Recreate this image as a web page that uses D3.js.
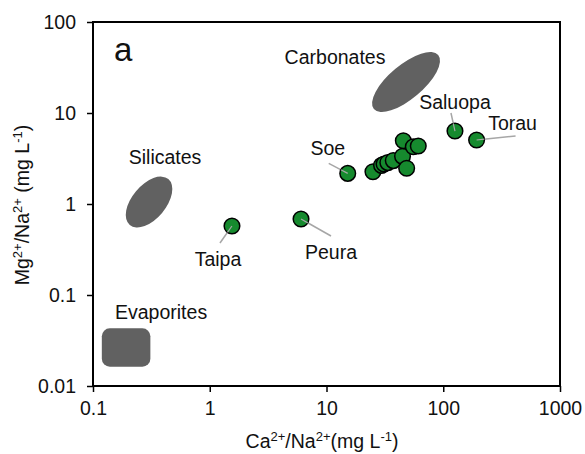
<!DOCTYPE html>
<html>
<head>
<meta charset="utf-8">
<script src="https://cdn.jsdelivr.net/npm/d3@7"></script>
<style>
  html, body { margin: 0; padding: 0; background: #fff; }
  svg { display: block; }
  text { font-family: "Liberation Sans", Arial, sans-serif; fill: #111; }
</style>
</head>
<body>
<svg id="chart" width="585" height="454"></svg>
<script>
// ---- data ----
const caNa = [1.55, 6.05, 15.2, 25.0, 29.6, 31.1, 33.5, 37.3, 44.8, 48.6, 45.5, 55.4, 61.1, 126, 193];
const mgNa = [0.573, 0.684, 2.17, 2.26, 2.66, 2.75, 2.85, 3.0, 3.34, 2.47, 4.96, 4.26, 4.34, 6.34, 5.05];
const sampleNames = ["Taipa", "Peura", "Soe", "", "", "", "", "", "", "", "", "", "", "Saluopa", "Torau"];
const xTickLabels = ["0.1", "1", "10", "100", "1000"];
const yTickLabels = ["0.01", "0.1", "1", "10", "100"];
const regionNames = ["Carbonates", "Silicates", "Evaporites"];
const regionCenterCa = [48, 0.302, 0.192];
const regionCenterMg = [21.9, 1.05, 0.0265];
const evapCaRange = [0.119, 0.31];
const evapMgRange = [0.0163, 0.043];

// ---- layout ----
const svg = d3.select("#chart");
const x = d3.scaleLog().domain([0.1, 1000]).range([93, 560]);
const y = d3.scaleLog().domain([0.01, 100]).range([386, 22]);
const FS = 19.5;

function minors(domain) {
  const out = [];
  for (let e = Math.log10(domain[0]); e < Math.log10(domain[1]); e++) {
    for (let m = 2; m <= 9; m++) out.push(m * Math.pow(10, e));
  }
  return out;
}
const xMajor = xTickLabels.map(Number);
const yMajor = yTickLabels.map(Number);

// axes
const gx = svg.append("g").attr("transform", "translate(0,386)");
gx.call(d3.axisBottom(x).tickValues(minors(x.domain())).tickSize(4).tickFormat(""));
gx.selectAll("text").remove();
gx.call(d3.axisBottom(x).tickValues(xMajor).tickSize(6).tickPadding(9).tickFormat((d, i) => xTickLabels[i]));
gx.selectAll(".domain").remove();
gx.selectAll("line").attr("stroke", "#000").attr("stroke-width", 1.5);
gx.selectAll("text").attr("font-size", FS).attr("fill", "#111").attr("font-family", "Liberation Sans, Arial, sans-serif");

const gy = svg.append("g").attr("transform", "translate(93,0)");
gy.call(d3.axisLeft(y).tickValues(minors(y.domain())).tickSize(4).tickFormat(""));
gy.selectAll("text").remove();
gy.call(d3.axisLeft(y).tickValues(yMajor).tickSize(6).tickPadding(11).tickFormat((d, i) => yTickLabels[i]));
gy.selectAll(".domain").remove();
gy.selectAll("line").attr("stroke", "#000").attr("stroke-width", 1.5);
gy.selectAll("text").attr("font-size", FS).attr("fill", "#111").attr("font-family", "Liberation Sans, Arial, sans-serif");

// frame
svg.append("rect")
  .attr("x", x.range()[0]).attr("y", y.range()[1])
  .attr("width", x.range()[1] - x.range()[0])
  .attr("height", y.range()[0] - y.range()[1])
  .attr("fill", "none").attr("stroke", "#000").attr("stroke-width", 2);

// regions
const regionShape = [
  {rx: 42, ry: 17, rot: -40, ldx: -71, ldy: -18},
  {rx: 30, ry: 17, rot: -50, ldx: 16, ldy: -38},
  {ldx: 35, ldy: -28}
];
regionNames.forEach((name, i) => {
  const cx = x(regionCenterCa[i]), cy = y(regionCenterMg[i]);
  const s = regionShape[i];
  if (name === "Evaporites") {
    svg.append("rect")
      .attr("x", x(evapCaRange[0])).attr("y", y(evapMgRange[1]))
      .attr("width", x(evapCaRange[1]) - x(evapCaRange[0]))
      .attr("height", y(evapMgRange[0]) - y(evapMgRange[1]))
      .attr("rx", 8).attr("ry", 8)
      .attr("fill", "#616161");
  } else {
    svg.append("ellipse")
      .attr("cx", 0).attr("cy", 0).attr("rx", s.rx).attr("ry", s.ry)
      .attr("transform", `translate(${cx},${cy}) rotate(${s.rot})`)
      .attr("fill", "#616161");
  }
  svg.append("text").attr("x", cx + s.ldx).attr("y", cy + s.ldy)
    .attr("text-anchor", "middle").attr("font-size", FS).text(name);
});

// leader lines & labels
const labelOffsets = {
  "Taipa":   {lx: -12, ly: 17, tx: -14, ty: 40},
  "Peura":   {lx: 30, ly: 17, tx: 30, ty: 40},
  "Soe":     {lx: -19, ly: -10, tx: -20, ty: -18},
  "Saluopa": {lx: -4, ly: -18, tx: 0, ty: -22},
  "Torau":   {lx: 39, ly: -4, tx: 36, ty: -10}
};
sampleNames.forEach((n, i) => {
  if (!n) return;
  const o = labelOffsets[n];
  const px = x(caNa[i]), py = y(mgNa[i]);
  svg.append("line").attr("x1", px).attr("y1", py)
    .attr("x2", px + o.lx).attr("y2", py + o.ly)
    .attr("stroke", "#a6a6a6").attr("stroke-width", 1.5);
  svg.append("text").attr("x", px + o.tx).attr("y", py + o.ty)
    .attr("text-anchor", "middle").attr("font-size", FS).text(n);
});

// points
const R = 7.8;
svg.append("g").selectAll("circle")
  .data(caNa.map((v, i) => [v, mgNa[i]]))
  .join("circle")
  .attr("cx", d => x(d[0])).attr("cy", d => y(d[1]))
  .attr("r", R)
  .attr("fill", "#168a2e").attr("stroke", "#000").attr("stroke-width", 1.5);

// leader line segment visible over the marker (as in reference)
sampleNames.forEach((n, i) => {
  if (!n) return;
  const o = labelOffsets[n];
  const px = x(caNa[i]), py = y(mgNa[i]);
  const len = Math.hypot(o.lx, o.ly);
  svg.append("line").attr("x1", px).attr("y1", py)
    .attr("x2", px + o.lx * R / len).attr("y2", py + o.ly * R / len)
    .attr("stroke", "#a6a6a6").attr("stroke-width", 1.2);
});

// panel letter
svg.append("text").attr("x", 114).attr("y", 61).attr("font-size", 33).text("a");

// axis titles
function title(sel, parts) {
  let prevSup = false;
  parts.forEach(p => {
    const t = sel.append("tspan").text(p.t);
    if (p.sup) {
      t.attr("dy", -7).attr("font-size", 13);
    } else {
      t.attr("font-size", FS);
      if (prevSup) t.attr("dy", 7);
    }
    prevSup = !!p.sup;
  });
}
const xt = svg.append("text").attr("x", 322).attr("y", 448).attr("text-anchor", "middle");
title(xt, [{t: "Ca"}, {t: "2+", sup: true}, {t: "/Na"}, {t: "2+", sup: true}, {t: "(mg L"}, {t: "-1", sup: true}, {t: ")"}]);
const yt = svg.append("text").attr("transform", "translate(29,205) rotate(-90)").attr("text-anchor", "middle");
title(yt, [{t: "Mg"}, {t: "2+", sup: true}, {t: "/Na"}, {t: "2+", sup: true}, {t: " (mg L"}, {t: "-1", sup: true}, {t: ")"}]);
</script>
</body>
</html>
